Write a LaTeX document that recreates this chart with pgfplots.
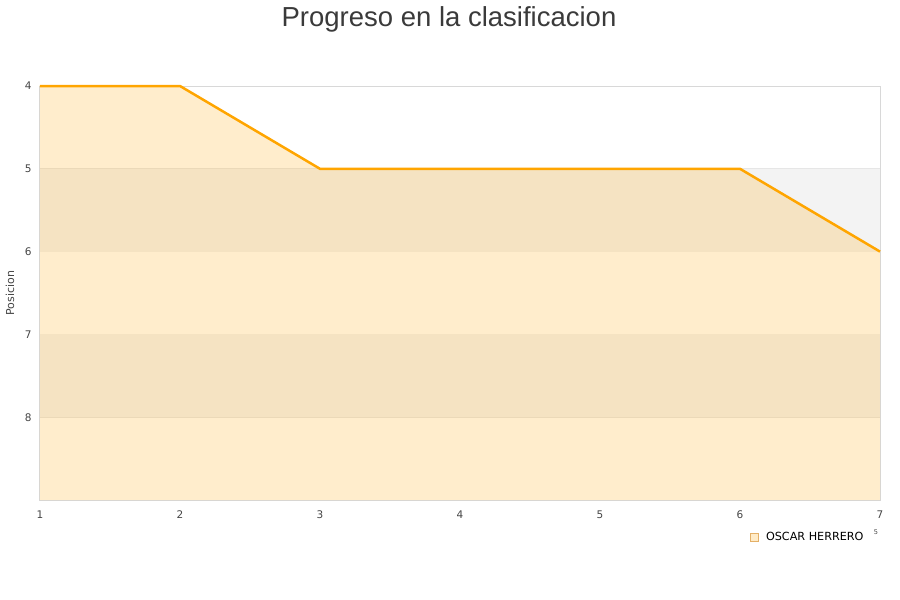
\documentclass[border=0pt]{standalone}
\usepackage{fontspec}
\setmainfont{DejaVu Sans}
\newfontfamily\titlefont{Liberation Sans}
\usepackage{pgfplots}
\pgfplotsset{compat=1.18}
\definecolor{lineorange}{HTML}{FFA500}
\definecolor{bandgray}{HTML}{F3F3F3}
\definecolor{gridgray}{HTML}{E6E6E6}
\definecolor{framegray}{HTML}{D8D8D8}
\definecolor{ticktext}{HTML}{444444}
\definecolor{titletext}{HTML}{3A3A3A}

\begin{document}
\begin{tikzpicture}
\useasboundingbox (-40pt,-100pt) rectangle (860pt,500pt);
\begin{axis}[
    at={(0pt,0pt)}, anchor=south west,
    scale only axis,
    width=840pt, height=414pt,
    xmin=1, xmax=7,
    ymin=4, ymax=9,
    y dir=reverse,
    xtick={1,...,7},
    ytick={4,...,8},
    major tick length=0pt,
    ymajorgrids,
    grid style={gridgray, line width=1pt},
    axis line style={framegray, line width=1pt},
    tick label style={font=\fontsize{10.5}{12}\selectfont, text=ticktext},
    xticklabel style={yshift=-7.5pt},
    yticklabel style={xshift=-5pt},
    /pgf/number format/assume math mode=true,
    ylabel={Posicion},
    every axis y label/.style={at={(axis description cs:0,0.5)}, xshift=-30pt,
        rotate=90, anchor=center, font=\fontsize{11}{13}\selectfont, text=ticktext},
    clip=false,
    legend style={at={(axis description cs:0.983,-0.089)}, anchor=east,
        draw=none, fill=none, font=\fontsize{11.2}{13}\selectfont,
        inner sep=0pt},
]

% alternating bands
\addplot[fill=bandgray, draw=none, forget plot] coordinates {(1,5) (7,5) (7,6) (1,6)} -- cycle;
\addplot[fill=bandgray, draw=none, forget plot] coordinates {(1,7) (7,7) (7,8) (1,8)} -- cycle;

% area under the position line
\addplot[fill=lineorange, fill opacity=0.2, draw=none,
    legend image code/.code={
        \path (0pt,0pt) -- (14pt,0pt);
        \draw[fill=lineorange!22, draw=lineorange!40!brown!70, line width=0.6pt, fill opacity=1] (0pt,-4pt) rectangle (8pt,4pt);}]
coordinates {(1,4) (2,4) (3,5) (4,5) (5,5) (6,5) (7,6) (7,9) (1,9)} -- cycle;
\addlegendentry{OSCAR HERRERO}

\addplot[lineorange, line width=2.5pt, forget plot] coordinates {
    (1,4) (2,4) (3,5) (4,5) (5,5) (6,5) (7,6)
};

\end{axis}
\node[font=\titlefont\fontsize{27.5}{32}\selectfont, text=titletext] at (409pt,481pt) {Progreso en la clasificacion};
\node[font=\fontsize{6.5}{7}\selectfont, text=ticktext] at (836pt,-32pt) {5};
\end{tikzpicture}
\end{document}
